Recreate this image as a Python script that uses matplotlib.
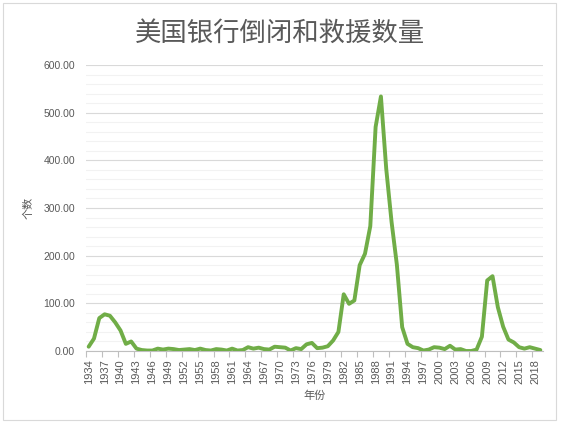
import numpy as np
import matplotlib
matplotlib.use("Agg")
import matplotlib.pyplot as plt
from matplotlib.patches import Rectangle

plt.rcParams['font.family'] = ['Liberation Sans', 'Noto Sans CJK SC', 'DejaVu Sans']

# 1934 - 2019
years = list(range(1934, 2020))
counts = [9, 26, 69, 77, 74, 60, 43, 15, 20, 5,
          2, 1, 1, 5, 3, 5, 4, 2, 3, 4,
          2, 5, 2, 1, 4, 3, 1, 5, 1, 2,
          8, 5, 7, 4, 3, 9, 8, 7, 1, 6,
          4, 14, 17, 6, 7, 10, 22, 40, 119, 99,
          106, 180, 204, 262, 470, 534, 382, 271, 181, 50,
          15, 8, 6, 1, 3, 8, 7, 4, 11, 3,
          4, 0, 0, 3, 30, 148, 157, 92, 51, 24,
          18, 8, 5, 8, 5, 2]

title = "美国银行倒闭和救援数量"
xlabel = "年份"
ylabel = "个数"

W, H = 563, 425
fig = plt.figure(figsize=(W / 100, H / 100), dpi=100)

# chart border
fig.patches.append(Rectangle((3 / W, 1 - 420 / H), 553 / W, 417 / H,
                             transform=fig.transFigure, fill=False,
                             edgecolor='#D9D9D9', lw=0.8))

ax = fig.add_axes([86 / W, 1 - 351 / H, (543 - 86) / W, (351 - 65) / H])
x = np.arange(len(years))
ax.plot(x, counts, color='#70AD47', lw=2.8, solid_joinstyle='round', solid_capstyle='round', zorder=3)

ax.set_xlim(-0.5, len(years) - 0.5)
ax.set_ylim(0, 600)

ax.set_yticks(np.arange(0, 601, 100))
ax.set_yticklabels([f"{v:.2f}" for v in range(0, 601, 100)])
ax.set_yticks(np.arange(0, 601, 20), minor=True)
ax.grid(axis='y', which='major', color='#D9D9D9', lw=0.8)
ax.grid(axis='y', which='minor', color='#F2F2F2', lw=0.8)
ax.set_axisbelow(True)

lab_idx = x[::3]
ax.set_xticks(lab_idx)
ax.set_xticklabels([str(years[i]) for i in lab_idx], rotation=90)
ax.set_xticks(lab_idx - 0.5, minor=True)

ax.tick_params(axis='y', which='both', length=0, labelsize=7.5, labelcolor='#595959', pad=8)
ax.tick_params(axis='x', which='major', length=0, labelsize=8, labelcolor='#595959', pad=6)
ax.tick_params(axis='x', which='minor', length=4, color='#BFBFBF', width=0.8)

for s in ['top', 'right', 'left']:
    ax.spines[s].set_visible(False)
ax.spines['bottom'].set_color('#BFBFBF')
ax.spines['bottom'].set_linewidth(0.8)

fig.text(280 / W, 1 - 33 / H, title, ha='center', va='center', fontsize=19,
         color='#595959', fontweight='light', family=['Noto Sans CJK SC', 'DejaVu Sans'])
fig.text(315 / W, 1 - 396 / H, xlabel, ha='center', va='center', fontsize=8,
         color='#595959', family=['Noto Sans CJK SC', 'DejaVu Sans'])
fig.text(28 / W, 1 - 208 / H, ylabel, ha='center', va='center', fontsize=8,
         rotation=90, color='#595959', family=['Noto Sans CJK SC', 'DejaVu Sans'])

fig.savefig("out.png", dpi=100)
